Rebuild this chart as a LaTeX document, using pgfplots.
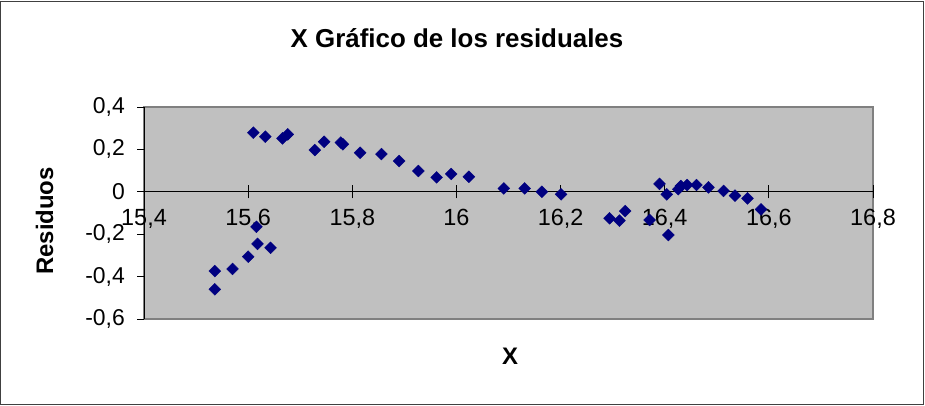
\documentclass[border=0pt]{standalone}
\usepackage{pgfplots}
\pgfplotsset{compat=1.18}
\usepackage{fontspec}
\setmainfont{Liberation Sans}
\definecolor{plotbg}{HTML}{C0C0C0}
\definecolor{navy}{HTML}{000080}
\definecolor{frame}{HTML}{808080}
\begin{document}
\begin{tikzpicture}
% outer frame and page size
\draw[black!75, line width=1.2bp] (0.6bp,1.5bp) rectangle (923.4bp,404.5bp);
\path[use as bounding box] (0,0) rectangle (925bp,406bp);
\begin{axis}[
    at={(144bp,87bp)}, anchor=south west,
    scale only axis, width=729bp, height=212bp,
    xmin=15.4, xmax=16.8, ymin=-0.6, ymax=0.4,
    axis x line=middle, axis y line=left,
    axis line style={-, black, line width=0.8bp},
    hide obscured x ticks=false, hide obscured y ticks=false,
    axis background/.style={fill=plotbg, draw=frame, line width=1.6bp},
    xtick={15.4,15.6,15.8,16,16.2,16.4,16.6,16.8},
    ytick={-0.6,-0.4,-0.2,0,0.2,0.4},
    xtick align=center, ytick align=outside,
    major tick length=7bp,
    x tick style={black, line width=0.8bp, /pgfplots/major tick length=13bp},
    y tick style={black, line width=0.8bp},
    /pgf/number format/.cd, use comma, fixed, precision=1, assume math mode=true,
    /pgfplots/.cd,
    xticklabel style={font=\fontsize{23.5}{26}\selectfont, anchor=north, inner sep=0pt, yshift=-14bp},
    yticklabel style={font=\fontsize{23}{26}\selectfont, anchor=east, inner sep=0pt, xshift=-12bp},
    clip=false,
]
\addplot[only marks, mark=square*, mark size=4.2bp, mark options={rotate=45, fill=navy, draw=navy}] coordinates {
(15.536,-0.460) (15.536,-0.374) (15.570,-0.364) (15.600,-0.306)
(15.616,-0.165) (15.618,-0.246) (15.643,-0.264)
(15.610,0.279) (15.633,0.260) (15.666,0.252) (15.676,0.271)
(15.728,0.197) (15.746,0.236) (15.778,0.232) (15.782,0.224)
(15.815,0.184) (15.856,0.178) (15.890,0.145) (15.927,0.098)
(15.962,0.068) (15.990,0.084) (16.024,0.071) (16.091,0.016)
(16.131,0.016) (16.164,0.000) (16.201,-0.012) (16.294,-0.125)
(16.313,-0.136) (16.324,-0.091) (16.371,-0.133) (16.390,0.037)
(16.404,-0.012) (16.407,-0.204) (16.426,0.012) (16.431,0.027)
(16.443,0.032) (16.461,0.032) (16.484,0.021) (16.513,0.004)
(16.535,-0.018) (16.559,-0.031) (16.585,-0.083)
};
\end{axis}
\node[anchor=base, font=\bfseries\fontsize{26}{30}\selectfont, inner sep=0pt] at (457bp,358.3bp) {X Gráfico de los residuales};
\node[anchor=base, font=\bfseries\fontsize{24}{28}\selectfont, inner sep=0pt] at (510bp,41bp) {X};
\node[anchor=base, rotate=90, font=\bfseries\fontsize{24}{28}\selectfont, inner sep=0pt] at (53bp,185bp) {Residuos};
\end{tikzpicture}
\end{document}
